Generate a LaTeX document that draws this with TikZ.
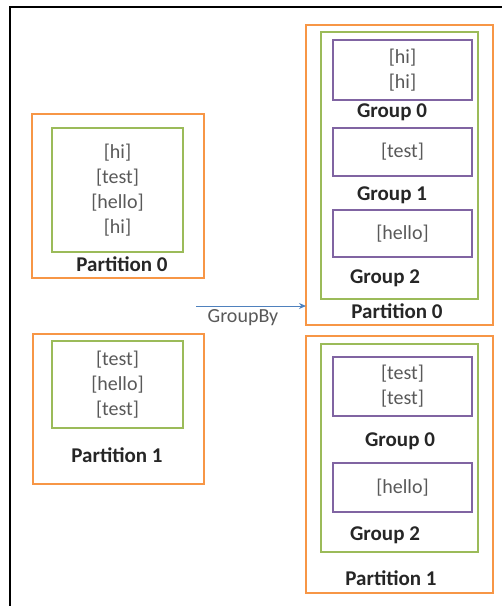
\documentclass[tikz,border=0pt]{standalone}
\usepackage{fontspec}
\setmainfont{Carlito}
\usetikzlibrary{arrows.meta}
\definecolor{orng}{HTML}{F79646}
\definecolor{grn}{HTML}{9BBB59}
\definecolor{purp}{HTML}{8064A2}
\definecolor{arblue}{HTML}{4F81BD}
\definecolor{txtgray}{HTML}{595959}
\definecolor{lblblack}{HTML}{262626}
\begin{document}
\begin{tikzpicture}[x=1pt,y=-1pt,
  box/.style={draw, line width=1.6pt, inner sep=0pt, outer sep=0pt},
  partbox/.style={box, draw=orng},
  grpbox/.style={box, draw=grn, text=txtgray, align=center, font=\fontsize{20}{25}\selectfont},
  itembox/.style={box, draw=purp, text=txtgray, align=center, font=\fontsize{20}{25}\selectfont},
  lbl/.style={font=\fontsize{21}{25}\selectfont\bfseries, text=lblblack, inner sep=0pt},
  edgelbl/.style={font=\fontsize{20}{25}\selectfont, text=txtgray, inner sep=0pt}]
\useasboundingbox (0,0) rectangle (502,606);
% frame (left and top edges visible)
\coordinate (fbl) at (10,606);
\coordinate (ftl) at (10,7);
\coordinate (ftr) at (502,7);
\draw[line width=2.6pt, black] (fbl) -- (ftl) -- (ftr);

% left partition 0
\node[partbox, minimum width=172pt, minimum height=164pt] (lp0) at (118,196) {};
\node[grpbox, minimum width=131pt, minimum height=124pt] (lg0) at (117.5,190) {{[hi]}\\{[test]}\\{[hello]}\\{[hi]}};
\node[lbl] (lp0l) at (122,264) {Partition 0};

% left partition 1
\node[partbox, minimum width=171pt, minimum height=150pt] (lp1) at (118.5,409) {};
\node[grpbox, minimum width=131pt, minimum height=87pt] (lg1) at (117.5,384.5) {{[test]}\\{[hello]}\\{[test]}};
\node[lbl] (lp1l) at (117,455) {Partition 1};

% right partition 0
\node[partbox, minimum width=187pt, minimum height=300pt] (rp0) at (399.5,175) {};
\node[box, draw=grn, minimum width=157pt, minimum height=267pt] (rg0) at (399.5,165.5) {};
\node[itembox, minimum width=139pt, minimum height=60pt] (r0i0) at (402.5,70) {{[hi]}\\{[hi]}};
\node[lbl] (r0g0) at (392,112) {Group 0};
\node[itembox, minimum width=139pt, minimum height=48pt] (r0i1) at (402.5,152) {{[test]}};
\node[lbl] (r0g1) at (392,195) {Group 1};
\node[itembox, minimum width=139pt, minimum height=47pt] (r0i2) at (402.5,233.5) {{[hello]}};
\node[lbl] (r0g2) at (385,278) {Group 2};
\node[lbl] (rp0l) at (397,311) {Partition 0};

% right partition 1
\node[partbox, minimum width=187pt, minimum height=257pt] (rp1) at (399.5,464.5) {};
\node[box, draw=grn, minimum width=157pt, minimum height=208pt] (rg1) at (399.5,448) {};
\node[itembox, minimum width=139pt, minimum height=59pt] (r1i0) at (402.5,386.5) {{[test]}\\{[test]}};
\node[lbl] (r1g0) at (400,441) {Group 0};
\node[itembox, minimum width=139pt, minimum height=49pt] (r1i2) at (402.5,487.5) {{[hello]}};
\node[lbl] (r1g2) at (385,535) {Group 2};
\node[lbl] (rp1l) at (391,578) {Partition 1};

% GroupBy arrow
\coordinate (gbs) at (196,306);
\draw[arblue, line width=1pt, -{Stealth[length=7pt,width=6pt]}] (gbs) -- (rp0.west |- gbs);
\node[edgelbl] (gbl) at (243,318) {GroupBy};
\end{tikzpicture}
\end{document}
